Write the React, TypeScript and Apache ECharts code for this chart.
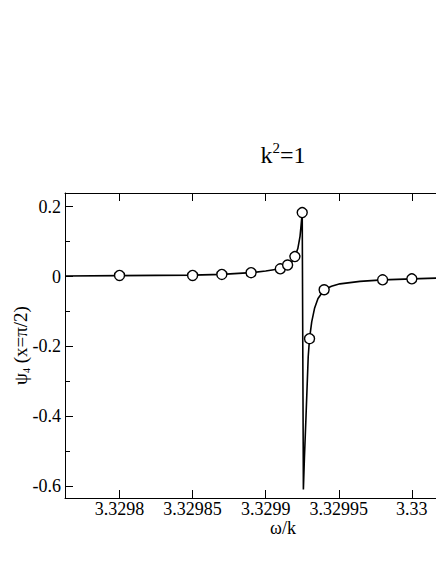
import React, { useEffect, useRef } from "react";
import * as echarts from "echarts";

// Resonance curve psi_4(x=pi/2) versus omega/k
const curveX = [
  3.329763, 3.3298, 3.32985, 3.32987, 3.32989, 3.3299, 3.32991, 3.329915,
  3.329918, 3.32992, 3.329922, 3.3299235, 3.3299243, 3.329925, 3.3299258,
  3.3299265, 3.3299276, 3.3299291, 3.32993, 3.3299315, 3.3299335, 3.3299358,
  3.32994, 3.329945, 3.3299508, 3.3299645, 3.32998, 3.33, 3.330017, 3.33006,
];
const curveY = [
  0.0015, 0.0025, 0.004, 0.006, 0.011, 0.016, 0.022, 0.033,
  0.043, 0.057, 0.08, 0.115, 0.15, 0.183, -0.61,
  -0.52, -0.4, -0.23, -0.178, -0.13, -0.09, -0.063,
  -0.038, -0.028, -0.021, -0.014, -0.0095, -0.0067, -0.0045, -0.003,
];

// Computed points (circles)
const markX = [
  3.3298, 3.32985, 3.32987, 3.32989, 3.32991, 3.329915, 3.32992, 3.329925,
  3.32993, 3.32994, 3.32998, 3.33,
];
const markY = [
  0.003, 0.003, 0.006, 0.011, 0.022, 0.033, 0.057, 0.183,
  -0.178, -0.038, -0.0095, -0.0067,
];

const xTicks = [3.3298, 3.32985, 3.3299, 3.32995, 3.33];
const xTickLabels = ["3.3298", "3.32985", "3.3299", "3.32995", "3.33"];
const yTicks = [-0.6, -0.4, -0.2, 0, 0.2];
const yTickLabels = ["-0.6", "-0.4", "-0.2", "0", "0.2"];
const yMinorTicks = [-0.5, -0.3, -0.1, 0.1];

const X_MIN = 3.3297627;
const X_MAX = 3.330061;
const Y_MIN = -0.6344;
const Y_MAX = 0.2392;

const FONT = "Liberation Serif";

function labelFor(ticks: number[], labels: string[], v: number): string {
  let best = 0;
  for (let i = 1; i < ticks.length; i++) {
    if (Math.abs(ticks[i] - v) < Math.abs(ticks[best] - v)) best = i;
  }
  return labels[best];
}

export default function App() {
  const ref = useRef<HTMLDivElement>(null);

  useEffect(() => {
    if (!ref.current) return;
    const chart = echarts.init(ref.current, null, { renderer: "svg" });
    const black = "#000";
    const curve = curveX.map((x, i) => [x, curveY[i]]);
    const marks = markX.map((x, i) => [x, markY[i]]);

    const baseTick = { show: true, inside: true, length: 8, lineStyle: { color: black, width: 1 } };
    const line = { show: true, onZero: false, lineStyle: { color: black, width: 1 } };

    chart.setOption({
      animation: false,
      backgroundColor: "#fff",
      grid: {
        left: 65,
        top: 193,
        width: 436,
        height: 305,
        containLabel: false,
        outerBoundsMode: "none",
      },
      graphic: [
        {
          type: "text",
          x: 283,
          y: 170,
          style: {
            text: "{a|k}{b|2}{a|=1}",
            align: "center",
            verticalAlign: "bottom",
            rich: {
              a: { fontFamily: FONT, fontSize: 24, lineHeight: 30, fill: black },
              b: { fontFamily: FONT, fontSize: 15, lineHeight: 30, verticalAlign: "top", fill: black },
            },
          },
        },
      ],
      xAxis: [
        {
          type: "value",
          position: "bottom",
          min: X_MIN,
          max: X_MAX,
          name: "ω/k",
          nameLocation: "middle",
          nameGap: 22,
          nameMoveOverlap: false,
          nameTextStyle: { fontFamily: FONT, fontSize: 18, lineHeight: 16, color: black },
          axisLine: line,
          axisTick: { ...baseTick, customValues: xTicks },
          axisLabel: {
            customValues: xTicks,
            margin: 3,
            fontFamily: FONT,
            fontSize: 18,
            lineHeight: 16,
            color: black,
            formatter: (v: number) => labelFor(xTicks, xTickLabels, v),
          },
          splitLine: { show: false },
        },
        {
          type: "value",
          position: "top",
          min: X_MIN,
          max: X_MAX,
          axisLine: line,
          axisTick: { ...baseTick, customValues: xTicks },
          axisLabel: { show: false },
          splitLine: { show: false },
        },
      ],
      yAxis: [
        {
          type: "value",
          position: "left",
          min: Y_MIN,
          max: Y_MAX,
          name: "{a|ψ}{s|4}{a| (x=π/2)}",
          nameLocation: "middle",
          nameRotate: 90,
          nameGap: 34,
          nameMoveOverlap: false,
          nameTextStyle: {
            color: black,
            fontFamily: FONT,
            rich: {
              a: { fontFamily: FONT, fontSize: 19, lineHeight: 22, color: black },
              s: { fontFamily: FONT, fontSize: 10, lineHeight: 10, verticalAlign: "bottom", color: black },
            },
          },
          axisLine: line,
          axisTick: { ...baseTick, customValues: yTicks },
          axisLabel: {
            customValues: yTicks,
            margin: 4,
            fontFamily: FONT,
            fontSize: 18,
            color: black,
            formatter: (v: number) => labelFor(yTicks, yTickLabels, v),
          },
          splitLine: { show: false },
        },
        {
          type: "value",
          position: "left",
          min: Y_MIN,
          max: Y_MAX,
          axisLine: { show: false, onZero: false },
          axisTick: { show: true, inside: true, length: 5, lineStyle: { color: black, width: 1 }, customValues: yMinorTicks },
          axisLabel: { show: false },
          splitLine: { show: false },
        },
        {
          type: "value",
          position: "right",
          min: Y_MIN,
          max: Y_MAX,
          axisLine: line,
          axisTick: { ...baseTick, customValues: yTicks },
          axisLabel: { show: false },
          splitLine: { show: false },
        },
      ],
      series: [
        {
          type: "line",
          data: curve,
          xAxisIndex: 0,
          yAxisIndex: 0,
          showSymbol: false,
          symbol: "none",
          lineStyle: { color: black, width: 1.6 },
          clip: true,
          z: 2,
        },
        {
          type: "scatter",
          data: marks,
          xAxisIndex: 0,
          yAxisIndex: 0,
          symbol: "circle",
          symbolSize: 10,
          itemStyle: { color: "#fff", borderColor: black, borderWidth: 1.4, opacity: 1 },
          z: 3,
        },
      ],
    });
    return () => chart.dispose();
  }, []);

  return (
    <div
      style={{
        position: "fixed",
        left: 0,
        top: 0,
        width: 436,
        height: 564,
        overflow: "hidden",
        background: "#fff",
      }}
    >
      <div ref={ref} style={{ width: 520, height: 564 }} />
    </div>
  );
}
